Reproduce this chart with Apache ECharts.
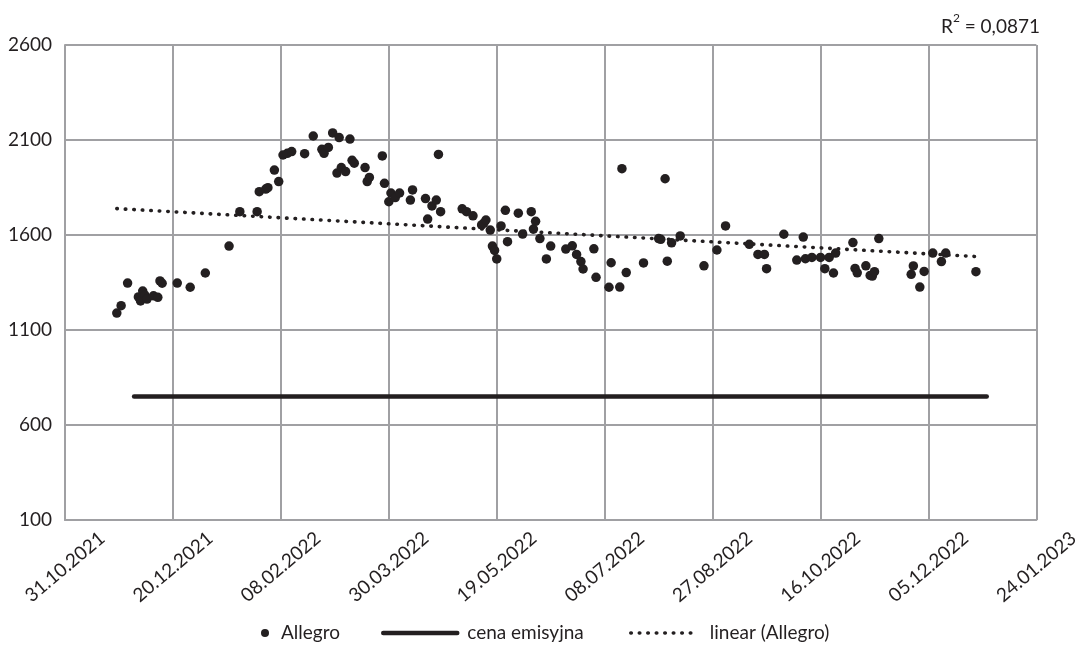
<!DOCTYPE html>
<html><head><meta charset="utf-8">
<script src="https://cdn.jsdelivr.net/npm/echarts@6/dist/echarts.min.js"></script>
<style>html,body{margin:0;padding:0;background:#fff}#c{width:1082px;height:659px}</style>
</head><body><div id="c"></div>
<script>
// ---- data ----
const allegroDates = [
 '2021-11-24','2021-11-26','2021-11-29','2021-12-04','2021-12-05','2021-12-06','2021-12-07','2021-12-08','2021-12-11','2021-12-13',
 '2021-12-14','2021-12-15','2021-12-22','2021-12-28','2022-01-04','2022-01-15','2022-01-20','2022-01-28','2022-01-29','2022-02-01',
 '2022-02-02','2022-02-05','2022-02-07','2022-02-09','2022-02-11','2022-02-13','2022-02-19','2022-02-23','2022-02-27','2022-02-28',
 '2022-03-02','2022-03-04','2022-03-06','2022-03-07','2022-03-08','2022-03-10','2022-03-12','2022-03-13','2022-03-14','2022-03-19',
 '2022-03-20','2022-03-21','2022-03-27','2022-03-28','2022-03-30','2022-03-31','2022-04-02','2022-04-04','2022-04-09','2022-04-10',
 '2022-04-16','2022-04-17','2022-04-19','2022-04-21','2022-04-22','2022-04-23','2022-05-03','2022-05-05','2022-05-08','2022-05-12',
 '2022-05-13','2022-05-14','2022-05-16','2022-05-17','2022-05-18','2022-05-19','2022-05-21','2022-05-23','2022-05-24','2022-05-29',
 '2022-05-31','2022-06-04','2022-06-05','2022-06-06','2022-06-08','2022-06-11','2022-06-13','2022-06-20','2022-06-23','2022-06-25',
 '2022-06-27','2022-06-28','2022-07-03','2022-07-04','2022-07-10','2022-07-11','2022-07-15','2022-07-16','2022-07-18','2022-07-26',
 '2022-08-02','2022-08-03','2022-08-05','2022-08-06','2022-08-08','2022-08-12','2022-08-23','2022-08-29','2022-09-02','2022-09-13',
 '2022-09-17','2022-09-20','2022-09-21','2022-09-29','2022-10-05','2022-10-08','2022-10-09','2022-10-12','2022-10-16','2022-10-18',
 '2022-10-20','2022-10-22','2022-10-23','2022-10-31','2022-11-01','2022-11-02','2022-11-06','2022-11-08','2022-11-09','2022-11-10',
 '2022-11-12','2022-11-27','2022-11-28','2022-12-01','2022-12-03','2022-12-07','2022-12-11','2022-12-13','2022-12-27'
];
const allegroValues = [
 1189,1228,1347,1274,1253,1305,1284,1263,1280,1272,
 1358,1346,1347,1325,1400,1542,1723,1723,1828,1842,
 1849,1942,1881,2021,2030,2039,2028,2121,2051,2030,
 2061,2137,1926,2113,1955,1934,2105,1993,1978,1955,
 1881,1903,2016,1872,1775,1821,1797,1821,1784,1837,
 1792,1684,1753,1784,2024,1723,1738,1723,1701,1653,
 1662,1679,1626,1542,1519,1474,1648,1730,1565,1715,
 1605,1723,1631,1672,1581,1474,1542,1526,1543,1498,
 1460,1421,1527,1377,1325,1454,1326,1949,1402,1453,
 1581,1577,1896,1462,1559,1595,1438,1521,1648,1551,
 1498,1498,1423,1604,1468,1589,1475,1482,1482,1423,
 1482,1400,1505,1560,1424,1401,1438,1387,1384,1407,
 1581,1393,1437,1326,1408,1505,1460,1505,1407
];
const emissionDates = ['2021-12-02','2023-01-01'];
const emissionValues = [750, 750];
const r2Text = '0,0871';
const xTickLabels = ['31.10.2021','20.12.2021','08.02.2022','30.03.2022','19.05.2022','08.07.2022','27.08.2022','16.10.2022','05.12.2022','24.01.2023'];
const yTicks = [100, 600, 1100, 1600, 2100, 2600];
const seriesNames = ['Allegro', 'cena emisyjna', 'linear (Allegro)'];

// ---- helpers ----
const toSerial = s => { const p = s.split('-').map(Number); return Date.UTC(p[0], p[1]-1, p[2]) / 86400000 + 25569; };
const xMin = 44500, xStep = 50, xMax = xMin + xStep * (xTickLabels.length - 1);

const scatterData = allegroDates.map((d, i) => [toSerial(d), allegroValues[i]]);
const emissionData = emissionDates.map((d, i) => [toSerial(d), emissionValues[i]]);

// least-squares linear trend of the Allegro series (Excel "linear" trendline)
const n = scatterData.length;
let sx = 0, sy = 0, sxx = 0, sxy = 0;
scatterData.forEach(([x, y]) => { sx += x; sy += y; sxx += x * x; sxy += x * y; });
const slope = (n * sxy - sx * sy) / (n * sxx - sx * sx);
const icpt = (sy - slope * sx) / n;
const xs = scatterData.map(p => p[0]);
const tx0 = Math.min(...xs), tx1 = Math.max(...xs);
const trendData = [[tx0, icpt + slope * tx0], [tx1, icpt + slope * tx1]];

const FONT = 'Lato';
const INK = '#231f20';
const GRID = '#a0a0a3';
const DOTS = [0.5, 8];

const chart = echarts.init(document.getElementById('c'), null, { renderer: 'canvas' });
const legendText = { fontFamily: FONT, fontSize: 19, color: INK, lineHeight: 22 };
const legendBase = { orient: 'horizontal', top: 622, padding: 0, selectedMode: false,
  itemStyle: { opacity: 0 }, textStyle: legendText };
chart.setOption({
  animation: false,
  backgroundColor: '#fff',
  title: {
    right: 42, top: 12, padding: 0,
    text: '{a|R}{s|2}{a| = ' + r2Text + '}',
    textStyle: { fontWeight: 'normal', rich: {
      a: { fontFamily: FONT, fontSize: 19, fontWeight: 'normal', color: INK, lineHeight: 24, verticalAlign: 'bottom' },
      s: { fontFamily: FONT, fontSize: 12, fontWeight: 'normal', color: INK, lineHeight: 24, verticalAlign: 'top' }
    } }
  },
  legend: [
    { orient: 'horizontal', top: 622, padding: 0, selectedMode: false, left: 261, data: [seriesNames[0]],
      itemWidth: 8, itemHeight: 8, itemStyle: { opacity: 1, color: INK },
      textStyle: Object.assign({}, legendText, { padding: [0, 0, 0, 7] }) },
    Object.assign({}, legendBase, { left: 381, data: [seriesNames[1]], itemWidth: 74, itemHeight: 14,
      lineStyle: { width: 4.5, color: INK, cap: 'round' },
      textStyle: Object.assign({}, legendText, { padding: [0, 0, 0, 5] }) }),
    Object.assign({}, legendBase, { left: 629, data: [seriesNames[2]], itemWidth: 68, itemHeight: 14,
      lineStyle: { width: 3.6, color: INK, type: DOTS, cap: 'round' },
      textStyle: Object.assign({}, legendText, { padding: [0, 0, 0, 6] }) })
  ],
  grid: { left: 65, right: 39, top: 45, bottom: 139, containLabel: false },
  xAxis: {
    type: 'value', min: xMin, max: xMax, interval: xStep,
    axisLine: { show: true, lineStyle: { color: GRID, width: 2 } },
    axisTick: { show: false },
    splitLine: { show: true, lineStyle: { color: GRID, width: 2 } },
    axisLabel: {
      rotate: 40, align: 'center', verticalAlign: 'middle', margin: 47,
      fontFamily: FONT, fontSize: 19, color: INK,
      formatter: v => xTickLabels[Math.round((v - xMin) / xStep)] || ''
    }
  },
  yAxis: {
    type: 'value', min: yTicks[0], max: yTicks[yTicks.length - 1], interval: yTicks[1] - yTicks[0],
    axisLine: { show: true, lineStyle: { color: GRID, width: 2 } },
    axisTick: { show: false },
    splitLine: { show: true, lineStyle: { color: GRID, width: 2 } },
    axisLabel: { margin: 13, fontFamily: FONT, fontSize: 19, color: INK, formatter: v => String(v) }
  },
  series: [
    { name: seriesNames[0], type: 'scatter', data: scatterData, symbol: 'circle', symbolSize: 9.5,
      itemStyle: { color: INK, opacity: 1 }, z: 4 },
    { name: seriesNames[1], type: 'line', data: emissionData, symbol: 'none', showSymbol: false,
      lineStyle: { color: INK, width: 4.5, cap: 'round' }, itemStyle: { color: INK }, z: 3 },
    { name: seriesNames[2], type: 'line', data: trendData, symbol: 'none', showSymbol: false,
      lineStyle: { color: INK, width: 3.6, type: DOTS, cap: 'round' }, itemStyle: { color: INK }, z: 3 }
  ]
});
</script></body></html>
